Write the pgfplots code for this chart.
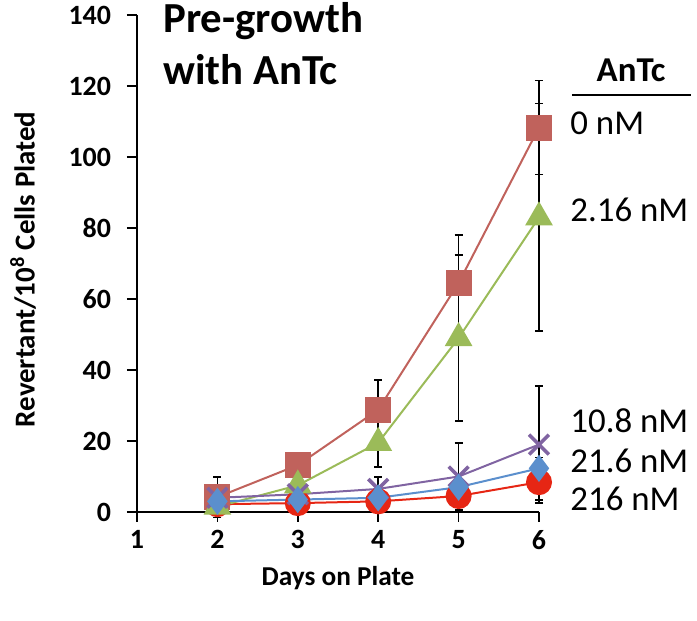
\documentclass[border=0pt]{standalone}
\usepackage{pgfplots}
\pgfplotsset{compat=1.18}
\usepackage{fontspec}
\setmainfont{Carlito}

\definecolor{c0}{RGB}{192,98,92}
\definecolor{c1}{RGB}{155,187,89}
\definecolor{c2}{RGB}{128,100,162}
\definecolor{c3}{RGB}{91,143,205}
\definecolor{c4}{RGB}{230,38,20}

\pgfplotsset{errs/.style={error bars/.cd, y dir=both, y explicit,
    error bar style={black, line width=0.7bp},
    error mark options={black, rotate=90, mark size=2bp, line width=0.7bp}}}

\begin{document}
\begin{tikzpicture}
\begin{axis}[
    scale only axis,
    width=201bp, height=248.5bp,
    xmin=1, xmax=6, ymin=0, ymax=140,
    xtick={1,2,3,4,5,6}, ytick={0,20,...,140},
    axis x line*=bottom, axis y line*=left,
    axis line style={line width=0.75bp},
    tick style={line width=0.75bp, black},
    tick align=outside, major tick length=5bp,
    clip=false,
    /pgf/number format/assume math mode=true,
    ticklabel style={font=\bfseries\fontsize{14}{14}\selectfont},
    yticklabel style={xshift=-4.5bp},
    xticklabel style={yshift=-0.5bp},
    xlabel={Days on Plate},
    ylabel={Revertant/10\textsuperscript{8} Cells Plated},
    every axis x label/.style={at={(axis description cs:0.5,0)}, yshift=-33bp, anchor=center, font=\bfseries\fontsize{13.7}{13.7}\selectfont},
    every axis y label/.style={at={(axis description cs:0,0.5)}, xshift=-57bp, yshift=-3bp, rotate=90, anchor=center, font=\bfseries\fontsize{14.5}{14.5}\selectfont},
]

\addplot[c4, line width=1bp, mark=*, mark size=6bp, mark options={solid, fill=c4, draw=c4}, errs] coordinates {
    (2,2.2) +- (0,0.5) (3,2.5) +- (0,0.5) (4,3.0) +- (0,1) (5,4.5) +- (0,3) (6,8.4) +- (0,5)
};
\addplot[c0, line width=1bp, mark=square*, mark size=6bp, mark options={solid, fill=c0, draw=c0}, errs] coordinates {
    (2,4.2) +- (0,5.7) (3,13.2) +- (0,3.6) (4,28.8) +- (0,8.4) (5,64.5) +- (0,13.5) (6,108.3) +- (0,13.3)
};
\addplot[c1, line width=1bp, mark=triangle*, mark size=7bp, mark options={solid, fill=c1, draw=c1}, errs] coordinates {
    (2,1.5) +- (0,1) (3,7.5) +- (0,3) (4,19.5) +- (0,6.8) (5,49) +- (0,23.4) (6,83) +- (0,32)
};
\addplot[c2, line width=1bp, mark=x, mark size=7bp, mark options={solid, line width=1.8bp}, errs] coordinates {
    (2,4.0) +- (0,1) (3,5.0) +- (0,1) (4,6.5) +- (0,3.4) (5,10) +- (0,9.4) (6,19) +- (0,16.5)
};
\addplot[c3, line width=1bp, mark=diamond*, mark size=6bp, mark options={solid, fill=c3, draw=c3}, errs] coordinates {
    (2,3.0) +- (0,1) (3,3.5) +- (0,1) (4,4.0) +- (0,1) (5,7.0) +- (0,2) (6,12.3) +- (0,3)
};

\node[anchor=base west, inner sep=0pt, font=\bfseries\fontsize{21.5}{21.5}\selectfont]
    at ([xshift=13bp]axis cs:1,135.2) {Pre-growth};
\node[anchor=base west, inner sep=0pt, font=\bfseries\fontsize{21.5}{21.5}\selectfont]
    at ([xshift=13bp]axis cs:1,120.3) {with AnTc};

\node[anchor=base, inner sep=0pt, font=\bfseries\fontsize{17.5}{17.5}\selectfont] at ([xshift=46bp]axis cs:6,121.4) {AnTc};
\draw[line width=0.7bp] ([xshift=16.5bp]axis cs:6,117.5) -- ([xshift=76bp]axis cs:6,117.5);
\node[anchor=base west, inner sep=0pt, font=\fontsize{17.5}{17.5}\selectfont] at ([xshift=15.5bp]axis cs:6,106.2) {0 nM};
\node[anchor=base west, inner sep=0pt, font=\fontsize{17.5}{17.5}\selectfont] at ([xshift=15.5bp]axis cs:6,81.7) {2.16 nM};
\node[anchor=base west, inner sep=0pt, font=\fontsize{17.5}{17.5}\selectfont] at ([xshift=15.5bp]axis cs:6,22.3) {10.8 nM};
\node[anchor=base west, inner sep=0pt, font=\fontsize{17.5}{17.5}\selectfont] at ([xshift=15.5bp]axis cs:6,11) {21.6 nM};
\node[anchor=base west, inner sep=0pt, font=\fontsize{17.5}{17.5}\selectfont] at ([xshift=15.5bp]axis cs:6,0.3) {216 nM};

\coordinate (o) at (rel axis cs:0,0);
\coordinate (tr) at (rel axis cs:1,1);
\end{axis}
\pgfresetboundingbox
\path[use as bounding box] ([xshift=-68.5bp, yshift=-54.5bp]o) rectangle ([xshift=79bp, yshift=7.5bp]tr);
\end{tikzpicture}
\end{document}
